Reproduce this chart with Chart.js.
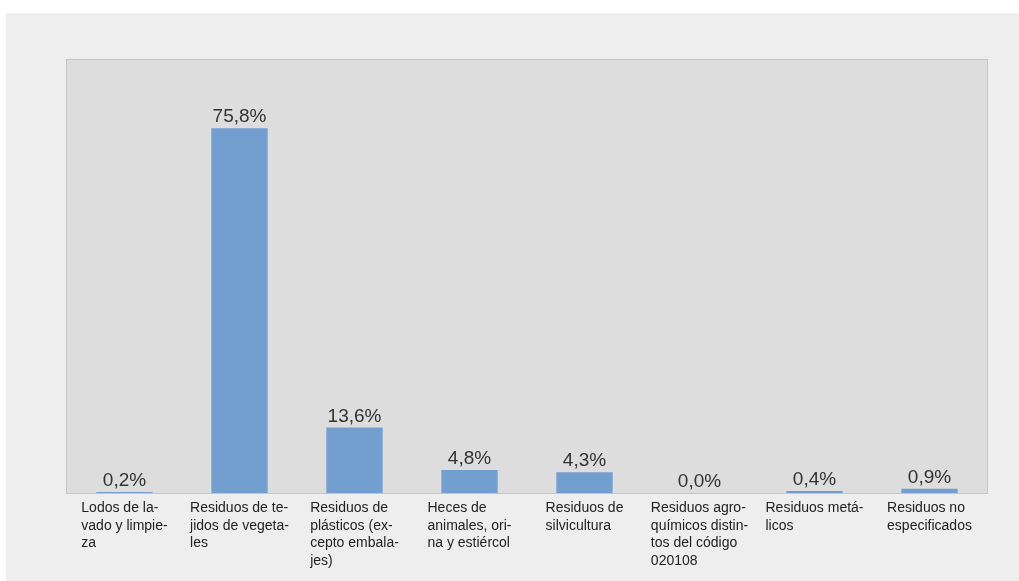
<!DOCTYPE html>
<html>
<head>
<meta charset="utf-8">
<script src="https://cdn.jsdelivr.net/npm/chart.js@4/dist/chart.umd.min.js"></script>
<style>
  body { margin: 0; background: #ffffff; }
  #panel { position: absolute; left: 6px; top: 13px; width: 1013px; height: 568px; background: #eeeeee; }
  #wrap { position: absolute; left: 0; top: 0; width: 1019px; height: 581px; }
</style>
</head>
<body>
<div id="panel"></div>
<div id="wrap"><canvas id="chart"></canvas></div>
<script>
// === datos ===
const categories = [
  ["Lodos de la-", "vado y limpie-", "za"],
  ["Residuos de te-", "jidos de vegeta-", "les"],
  ["Residuos de", "plásticos (ex-", "cepto embala-", "jes)"],
  ["Heces de", "animales, ori-", "na y estiércol"],
  ["Residuos de", "silvicultura"],
  ["Residuos agro-", "químicos distin-", "tos del código", "020108"],
  ["Residuos metá-", "licos"],
  ["Residuos no", "especificados"]
];
const values = [0.2, 75.8, 13.6, 4.8, 4.3, 0.0, 0.4, 0.9];

const FONT = '"Liberation Sans", Arial, sans-serif';
const fmt = v => v.toFixed(1).replace(".", ",") + "%";

// === fondo y borde del área de trazado ===
const plotArea = {
  id: "plotArea",
  beforeDraw(chart) {
    const { ctx, chartArea: a } = chart;
    ctx.save();
    ctx.fillStyle = "#dddddd";
    ctx.fillRect(a.left, a.top, a.right - a.left, a.bottom - a.top);
    ctx.strokeStyle = "#c6c6c6";
    ctx.lineWidth = 1;
    ctx.strokeRect(a.left - 0.5, a.top - 0.5, a.right - a.left + 1, a.bottom - a.top + 1);
    ctx.restore();
  }
};

// === etiquetas de valor y de categoría ===
const labels = {
  id: "labels",
  afterDraw(chart) {
    const { ctx } = chart;
    const meta = chart.getDatasetMeta(0);
    const x = chart.scales.x;
    ctx.save();
    ctx.font = "19px " + FONT;
    ctx.fillStyle = "#333333";
    ctx.textAlign = "center";
    ctx.textBaseline = "alphabetic";
    meta.data.forEach((bar, i) => {
      ctx.fillText(fmt(values[i]), bar.x, bar.y - 6);
    });
    ctx.font = "14px " + FONT;
    ctx.fillStyle = "#222222";
    ctx.textAlign = "left";
    categories.forEach((lines, i) => {
      const cx = x.getPixelForValue(i);
      const w = Math.max(...lines.map(l => ctx.measureText(l).width));
      const left = cx - w / 2;
      lines.forEach((l, j) => ctx.fillText(l, left, chart.chartArea.bottom + 19 + j * 17.5));
    });
    ctx.restore();
  }
};

new Chart(document.getElementById("chart"), {
  type: "bar",
  data: {
    labels: categories,
    datasets: [{
      data: values,
      backgroundColor: "#729fcf",
      borderWidth: 0,
      barPercentage: 0.49,
      categoryPercentage: 1
    }]
  },
  options: {
    responsive: true,
    maintainAspectRatio: false,
    animation: false,
    layout: { padding: { left: 67, top: 60, right: 32, bottom: 88 } },
    plugins: { legend: { display: false }, tooltip: { enabled: false } },
    scales: {
      x: { display: false, offset: true },
      y: { display: false, min: 0, max: 90 }
    }
  },
  plugins: [plotArea, labels]
});
</script>
</body>
</html>
